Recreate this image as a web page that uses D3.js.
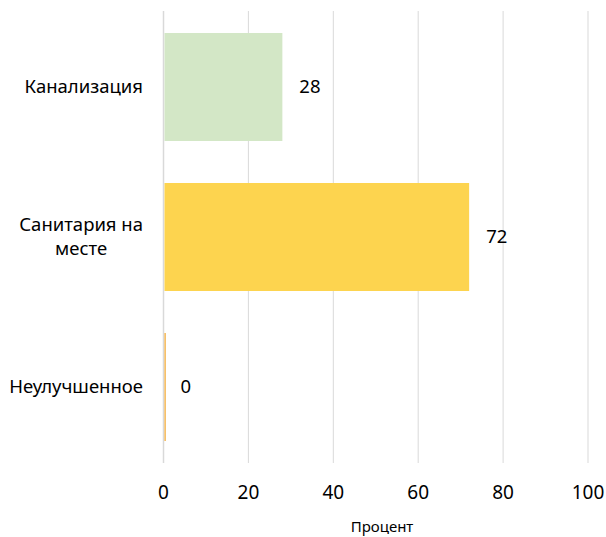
<!DOCTYPE html>
<html><head><meta charset="utf-8">
<script src="https://cdn.jsdelivr.net/npm/d3@7"></script>
<style>body{margin:0;background:#fff}svg{display:block}text{font-family:"Noto Sans",sans-serif;fill:#000}</style>
</head><body><svg id="c" width="606" height="537"></svg>
<script>
const categories = [["Канализация"], ["Санитария на", "месте"], ["Неулучшенное"]];
const values = [28, 72, 0];
const colors = ["#D3E7C6", "#FDD44F", "#F2A62C"];
const ticks = [0, 20, 40, 60, 80, 100];
const axisTitle = "Процент";

const svg = d3.select("#c");
const x = d3.scaleLinear().domain([0, 100]).range([163.5, 588]);
const y = d3.scaleBand().domain(d3.range(categories.length)).range([12, 462]).paddingInner(0.28).paddingOuter(0.14);

// gridlines
svg.append("g").selectAll("line").data(ticks).join("line")
  .attr("x1", d => x(d)).attr("x2", d => x(d)).attr("y1", 11).attr("y2", 463)
  .attr("stroke", "#D9D9D9").attr("stroke-width", d => d === 0 ? 1.5 : 1);

// bars
svg.append("g").selectAll("rect").data(values).join("rect")
  .attr("x", x(0) + 1).attr("y", (d, i) => y(i)).attr("height", y.bandwidth())
  .attr("width", d => Math.max(1.2, x(d) - x(0) - 1))
  .attr("fill", (d, i) => colors[i]);

// value labels
svg.append("g").selectAll("text").data(values).join("text")
  .attr("x", d => x(d) + 17).attr("y", (d, i) => y(i) + y.bandwidth() / 2)
  .attr("dy", "0.35em").attr("font-size", 18.5).text(d => d);

// category labels
const cg = svg.append("g");
categories.forEach((lines, i) => {
  const t = cg.append("text").attr("font-size", 18.5).attr("text-anchor", "middle");
  const lh = 24;
  const cy = y(i) + y.bandwidth() / 2 - (lines.length - 1) * lh / 2;
  lines.forEach((l, j) => t.append("tspan").attr("x", 0).attr("y", cy + j * lh).attr("dy", "0.35em").text(l));
  const w = t.node().getBBox().width;
  t.selectAll("tspan").attr("x", 143 - w / 2);
});

// tick labels
svg.append("g").selectAll("text").data(ticks).join("text")
  .attr("x", d => x(d)).attr("y", 492).attr("dy", "0.35em").attr("text-anchor", "middle")
  .attr("font-size", 19).text(d => d);

svg.append("text").attr("x", 382).attr("y", 527).attr("dy", "0.35em").attr("text-anchor", "middle")
  .attr("font-size", 15).text(axisTitle);
</script></body></html>
